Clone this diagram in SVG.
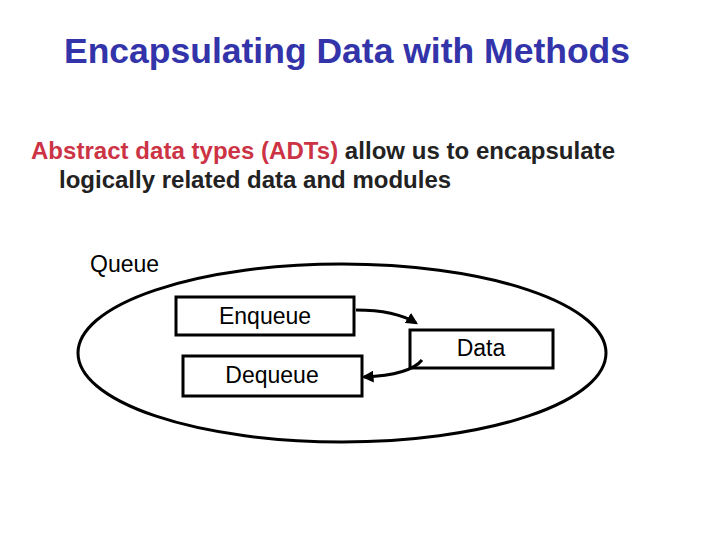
<svg xmlns="http://www.w3.org/2000/svg" width="720" height="540" viewBox="0 0 720 540">
<style>
text{font-family:"Liberation Sans",Arial,sans-serif}
.box{fill:#fff;stroke:#000;stroke-width:3}
.lbl{font-size:23px;text-anchor:middle}
.con{fill:none;stroke:#000;stroke-width:3;marker-end:url(#ah)}
</style>
<defs><marker id="ah" viewBox="0 0 10 10" refX="8" refY="5" markerWidth="4" markerHeight="4" orient="auto"><path d="M0,0L10,5L0,10z" fill="#000"/></marker></defs>
<rect width="720" height="540" fill="#fff"/>
<text x="347" y="63" font-size="35.5" font-weight="bold" fill="#3333aa" text-anchor="middle">Encapsulating Data with Methods</text>
<text x="31" y="159" font-size="24" font-weight="bold" textLength="584"><tspan fill="#cc3344">Abstract data types (ADTs)</tspan><tspan fill="#222"> allow us to encapsulate</tspan></text>
<text x="59" y="188" font-size="24" font-weight="bold" fill="#222">logically related data and modules</text>
<text x="90" y="272" font-size="23">Queue</text>
<ellipse id="queue" cx="342" cy="353" rx="264" ry="89" fill="none" stroke="#000" stroke-width="3"/>
<g id="enqueue"><rect class="box" x="176" y="297" width="178" height="38"/><text class="lbl" x="265" y="324">Enqueue</text></g>
<g id="data"><rect class="box" x="410" y="330" width="143" height="38"/><text class="lbl" x="481" y="356">Data</text></g>
<g id="dequeue"><rect class="box" x="183" y="356" width="179" height="40"/><text class="lbl" x="272" y="383">Dequeue</text></g>
<g id="connectors">
<path class="con" d="M356,310 Q395,310 416,323"/>
<path class="con" d="M422,360 Q410,375 364,377"/>
</g>
</svg>
